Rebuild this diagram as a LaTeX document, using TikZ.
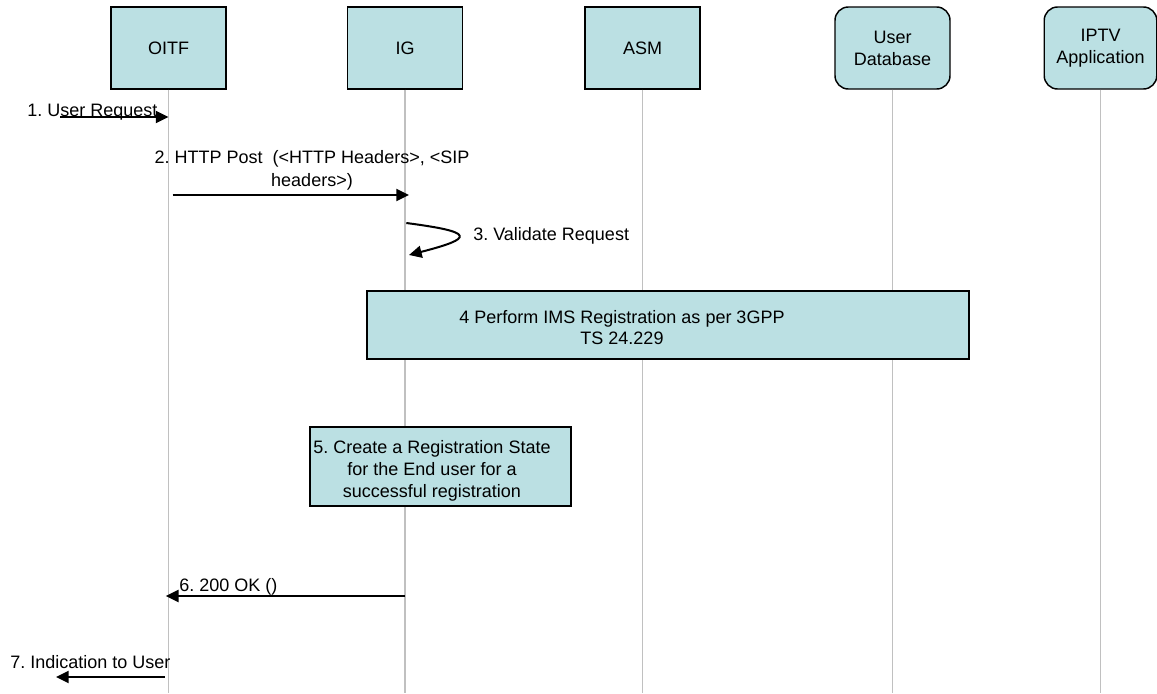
\documentclass[tikz,border=0pt]{standalone}
\usepackage{fontspec}
\setmainfont{Liberation Sans}
\usetikzlibrary{arrows.meta,calc}
\definecolor{boxfill}{RGB}{187,224,227}
\definecolor{lifegray}{RGB}{192,192,192}
\frenchspacing
\begin{document}
\begin{tikzpicture}[x=0.75pt,y=-0.75pt,
  every node/.style={font=\fontsize{13.5}{16.5}\selectfont},
  entity/.style={draw=black,line width=1.1pt,fill=boxfill,minimum width=86.25pt,minimum height=61.5pt,inner sep=0pt,align=center},
  rentity/.style={entity,rounded corners=10pt},
  lifeline/.style={draw=lifegray,line width=1.1pt},
  msg/.style={draw=black,line width=1.5pt,-{Triangle[length=9.5pt,width=9pt]}},
  txt/.style={inner sep=0pt,align=center},
  procbox/.style={draw=black,line width=1.1pt,fill=boxfill,inner sep=0pt}]
\useasboundingbox (0,0) rectangle (1157,693);
% entities
\node[entity] (oitf) at (168.5,48) {OITF};
\node[entity] (ig) at (405,48) {IG};
\node[entity] (asm) at (642.5,48) {ASM};
\node[rentity] (udb) at (892.5,48) {User\\Database};
\node[rentity,minimum width=84.4pt] (iptv) at (1100.5,48) {IPTV\\Application};
% lifelines
\coordinate (bot) at (0,693);
\draw[lifeline] (oitf.south) -- (oitf.south |- bot);
\draw[lifeline] (ig.south) -- (ig.south |- bot);
\draw[lifeline] (asm.south) -- (asm.south |- bot);
\draw[lifeline] (udb.south) -- (udb.south |- bot);
\draw[lifeline] (iptv.south) -- (iptv.south |- bot);
% 1
\coordinate (s1) at (60,117);
\draw[msg] (s1) -- (s1 -| oitf);
\node[txt,anchor=base west] (l1) at (27,116.5) {1. User Request};
% 2
\coordinate (y2) at (0,195);
\draw[msg,shorten <=3pt,shorten >=-3pt] (oitf |- y2) -- (ig |- y2);
\node[txt,font=\fontsize{13.5}{17.25}\selectfont] (l2) at (312,170.3) {2. HTTP Post\ \ (<HTTP Headers>, <SIP\\headers>)};
% 3
\coordinate (v3s) at (0,223);
\coordinate (v3e) at (409,255);
\draw[msg] ([xshift=1pt]ig |- v3s) .. controls (475,232) and (475,238) .. (v3e);
\node[txt,anchor=base west] (l3) at (473,240.5) {3. Validate Request};
% 4
\node[procbox,minimum width=451.5pt,minimum height=51pt] (reg) at (668,325) {};
\node[txt,font=\fontsize{13.5}{15.75}\selectfont] (t4) at (622,327.5) {4 Perform IMS Registration as per 3GPP\\TS 24.229};
% 5
\node[procbox,minimum width=195.75pt,minimum height=59.25pt] (state) at (440.5,466.5) {};
\node[txt] (t5) at (432,471) {5. Create a Registration State\\for the End user for a\\successful registration};
% 6
\coordinate (y6) at (0,596);
\draw[msg,shorten >=-2pt] (ig |- y6) -- (oitf |- y6);
\node[txt,anchor=base west] (l6) at (179,591.5) {6. 200 OK ()};
% 7
\coordinate (e7) at (56,677);
\draw[msg,shorten <=3pt] (oitf |- e7) -- (e7);
\node[txt,anchor=base west] (l7) at (10,668.5) {7. Indication to User};
\end{tikzpicture}
\end{document}
